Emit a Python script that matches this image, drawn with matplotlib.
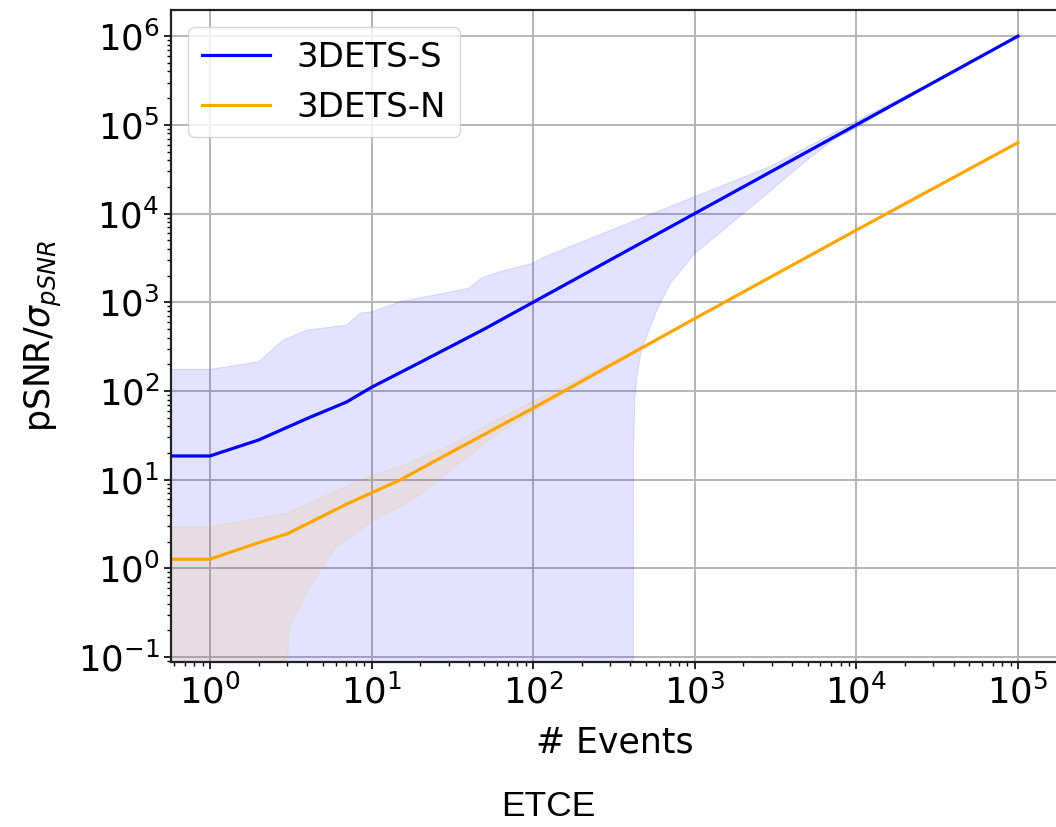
import numpy as np
import matplotlib.pyplot as plt

# mean curves
s_x = [0.5, 1, 2, 4, 7, 10, 20, 50, 100, 1e3, 1e4, 1e5]
s_y = [18.5, 18.5, 28, 49, 75, 110, 210, 500, 1000, 1e4, 1e5, 1e6]

n_x = [0.5, 1, 2, 3, 5, 7, 10, 15, 30, 100, 1e3, 1e4, 1e5]
n_y = [1.27, 1.27, 1.95, 2.45, 3.9, 5.3, 7.1, 9.9, 19.7, 64, 655, 6500, 63000]

# spread bands (upper / lower edges)
s_hi_x = [0.5, 1, 2, 2.84, 4, 7, 8.5, 10, 15, 40, 48, 62, 100, 112, 272, 1e3, 2920, 1e4, 2e4, 3e4, 1e5]
s_hi_y = [175, 175, 213, 375, 485, 553, 755, 780, 1013, 1435, 1870, 2210, 2750, 3130, 6000,
          15500, 33900, 1.1e5, 2.1e5, 3.05e5, 1e6]
s_lo_x = [0.5, 417, 418, 426, 440, 468, 583, 705, 1e3, 2e3, 4700, 7200, 1e4, 2e4, 3e4, 1e5]
s_lo_y = [1e-3, 1e-3, 20, 80, 150, 290, 815, 1630, 3550, 1e4, 3.7e4, 6.8e4, 9.2e4, 1.95e5, 3e5, 1e6]

n_hi_x = [0.5, 1, 3, 10, 15, 30, 62, 100, 200, 400, 1e3]
n_hi_y = [2.95, 2.95, 4.2, 11.2, 14, 24, 49, 76, 142, 270, 660]
n_lo_x = [0.5, 3.0, 3.05, 4, 6, 10, 19, 62, 100, 200, 400, 1e3]
n_lo_y = [1e-3, 1e-3, 0.2, 0.56, 1.74, 3.33, 6.4, 34.6, 58, 122, 255, 650]

fig = plt.figure(figsize=(10.56, 8.27), dpi=100)
ax = fig.add_axes([0.1619, 0.1995, 0.8403, 0.7884])

def band(xh, yh, xl, yl, color):
    ax.fill(np.r_[xh, xl[::-1]], np.r_[yh, yl[::-1]], color=color, alpha=0.11, lw=0.8)

band(s_hi_x, s_hi_y, s_lo_x, s_lo_y, 'blue')
band(n_hi_x, n_hi_y, n_lo_x, n_lo_y, 'orange')
ax.plot(s_x, s_y, color='blue', lw=2.3, label='3DETS-S')
ax.plot(n_x, n_y, color='orange', lw=2.3, label='3DETS-N')

ax.set_xscale('log')
ax.set_yscale('log')
ax.set_xlim(10 ** -0.241, 10 ** 5.25)
ax.set_ylim(0.088, 1.97e6)
ax.grid(True, which='major', color='#b5b5b5', lw=1.4)
ax.set_axisbelow(True)

for sp in ax.spines.values():
    sp.set_linewidth(1.6)
    sp.set_color('#222222')
ax.tick_params(which='major', labelsize=25.5, length=5, width=1.2)
ax.tick_params(which='minor', length=3, width=1.0)

ax.set_xlabel('# Events', fontsize=25, labelpad=11)
ax.set_ylabel(r'pSNR/$\sigma_{pSNR}$', fontsize=25, labelpad=10)
ax.legend(loc='upper left', fontsize=24.5, labelspacing=0.5)

fig.text(548 / 1056, 1 - 807 / 827, 'ETCE', family='Liberation Sans', fontsize=25.5,
         ha='center', va='center')

fig.savefig('out.png', dpi=100)
